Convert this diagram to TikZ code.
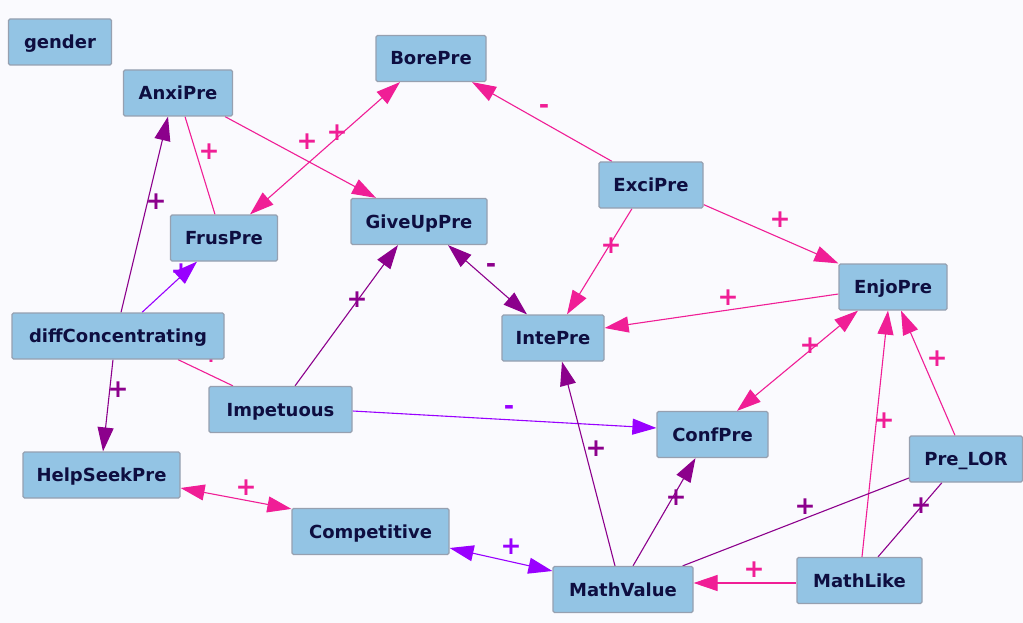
\documentclass[tikz,border=0pt]{standalone}
\usepackage{fontspec}
\setmainfont{DejaVu Sans}
\usetikzlibrary{arrows.meta,calc}

\definecolor{bgcol}{RGB}{250,250,254}
\definecolor{boxfill}{RGB}{147,196,228}
\definecolor{boxline}{RGB}{150,160,176}
\definecolor{ink}{RGB}{14,14,64}
\definecolor{pinkedge}{RGB}{240,30,150}
\definecolor{dpur}{RGB}{140,0,140}
\definecolor{viol}{RGB}{153,0,255}

\pgfdeclarelayer{bg}
\pgfsetlayers{bg,main}

\tikzset{
  var/.style={draw=boxline, line width=1.2pt, fill=boxfill, rounded corners=1.5pt,
    minimum height=46pt, inner sep=0pt, text=ink, text height=13pt, text depth=0pt,
    font=\fontsize{18}{21}\selectfont\bfseries},
  link/.style={line width=1.1pt},
  tip/.style={-{Triangle[length=24pt,width=16pt]}},
  both/.style={{Triangle[length=24pt,width=16pt]}-{Triangle[length=24pt,width=16pt]}},
  sign/.style={font=\fontsize{25}{25}\selectfont\bfseries, inner sep=0pt},
}

\begin{document}
\begin{tikzpicture}[x=1pt,y=-1pt]
\useasboundingbox (0,0) rectangle (1023,623);

% variables
\node[var, minimum width=103pt] (gender) at (60,42)     {gender};
\node[var, minimum width=109pt] (anxi)   at (178,93)    {AnxiPre};
\node[var, minimum width=110pt] (bore)   at (431,58.5)  {BorePre};
\node[var, minimum width=107pt] (frus)   at (224,238)   {FrusPre};
\node[var, minimum width=136pt] (giveup) at (419,221.5) {GiveUpPre};
\node[var, minimum width=104pt] (exci)   at (651,185)   {ExciPre};
\node[var, minimum width=102pt] (inte)   at (553,338)   {IntePre};
\node[var, minimum width=108pt] (enjo)   at (893,287)   {EnjoPre};
\node[var, minimum width=212pt] (diffc)  at (118,336)   {diffConcentrating};
\node[var, minimum width=143pt] (impet)  at (280.5,409.5) {Impetuous};
\node[var, minimum width=111pt] (conf)   at (712.5,434.5) {ConfPre};
\node[var, minimum width=157pt] (help)   at (101.5,475) {HelpSeekPre};
\node[var, minimum width=113pt] (lor)    at (966,459)   {Pre\_LOR};
\node[var, minimum width=157pt] (compet) at (370.5,531.5) {Competitive};
\node[var, minimum width=140pt] (mval)   at (623,589.5) {MathValue};
\node[var, minimum width=125pt] (mlike)  at (859.5,580.5) {MathLike};

\begin{pgfonlayer}{bg}
\fill[bgcol] (0,0) rectangle (1023,623);

% edges
\draw[link, dpur, tip] ([xshift=3pt]diffc.north) -- ([xshift=-10pt]anxi.south);
\draw[link, pinkedge] ([xshift=7pt]anxi.south) -- ([xshift=-9pt]frus.north);
\draw[link, pinkedge, tip] ([xshift=47pt]anxi.south) -- ([xshift=-43pt]giveup.north);
\draw[link, pinkedge, both] ([xshift=26pt]frus.north) -- ([xshift=-31pt]bore.south);
\draw[link, pinkedge, tip] ([xshift=-39pt]exci.north) -- ([xshift=41pt]bore.south);
\draw[link, pinkedge, tip] ([xshift=-19pt]exci.south) -- ([xshift=14pt]inte.north);
\draw[link, pinkedge, tip] ([yshift=4pt]exci.south east) -- (enjo.north west);
\draw[link, pinkedge, tip] ([yshift=-7pt]enjo.west) -- ([yshift=10pt]inte.east);
\draw[link, dpur, both] ([xshift=29pt]giveup.south) -- ([xshift=-26pt]inte.north);
\draw[link, viol, tip] ([xshift=24pt]diffc.north) -- ([xshift=-27pt]frus.south);
\draw[link, dpur, tip] ([xshift=-5pt]diffc.south) -- ([xshift=1.5pt]help.north);
\draw[link, pinkedge] ([xshift=60pt]diffc.south) -- ([xshift=-47.5pt]impet.north);
\draw[link, dpur, tip] ([xshift=14.5pt]impet.north) -- ([xshift=-21pt]giveup.south);
\draw[link, viol, tip] ([yshift=-1.5pt]impet.east) -- ([yshift=6.5pt]conf.west);
\draw[link, pinkedge, both] ([yshift=-13pt]help.east) -- ([yshift=-1pt]compet.north west);
\draw[link, viol, both] ([yshift=-16.5pt]compet.east) -- ([yshift=18.5pt]mval.west);
\draw[link, dpur, tip] ([xshift=-8pt]mval.north) -- ([xshift=9pt]inte.south);
\draw[link, dpur, tip] ([xshift=10pt]mval.north) -- ([xshift=-17pt]conf.south);
\draw[link, pinkedge, both] ([xshift=-35pt]enjo.south) -- ([xshift=24.5pt]conf.north);
\draw[link, pinkedge, tip] ([xshift=2.5pt]mlike.north) -- ([xshift=-5pt]enjo.south);
\draw[link, pinkedge, tip] ([xshift=-11pt]lor.north) -- ([xshift=8pt]enjo.south);
\draw[link, dpur] ([yshift=-19pt]lor.west) -- ([xshift=-11pt]mval.north east);
\draw[link, dpur] ([xshift=-24pt]lor.south) -- ([xshift=18.5pt]mlike.north);
\draw[link, pinkedge, tip] ([yshift=-2.5pt]mlike.west) -- ([yshift=6.5pt]mval.east);

% signs of the effects
\node[sign, text=dpur]     (s1)  at (156,202) {+};
\node[sign, text=pinkedge] (s2)  at (209,152) {+};
\node[sign, text=pinkedge] (s3)  at (307,142) {+};
\node[sign, text=pinkedge] (s4)  at (337,133) {+};
\node[sign, text=pinkedge] (s5)  at (544,109) {-};
\node[sign, text=pinkedge] (s6)  at (611,246) {+};
\node[sign, text=pinkedge] (s7)  at (780,220) {+};
\node[sign, text=pinkedge] (s8)  at (728,298) {+};
\node[sign, text=dpur]     (s9)  at (491,268) {-};
\node[sign, text=viol]     (s10) at (181,272) {+};
\node[sign, text=dpur]     (s11) at (118,390) {+};
\node[sign, text=pinkedge] (s12) at (211,355) {+};
\node[sign, text=dpur]     (s13) at (357,300) {+};
\node[sign, text=viol]     (s14) at (509,410) {-};
\node[sign, text=pinkedge] (s15) at (246,488) {+};
\node[sign, text=viol]     (s16) at (511,547) {+};
\node[sign, text=dpur]     (s17) at (596,449) {+};
\node[sign, text=dpur]     (s18) at (676,498) {+};
\node[sign, text=pinkedge] (s19) at (810,346) {+};
\node[sign, text=pinkedge] (s20) at (884,421) {+};
\node[sign, text=pinkedge] (s21) at (937,359) {+};
\node[sign, text=dpur]     (s22) at (805,507) {+};
\node[sign, text=dpur]     (s23) at (921,506) {+};
\node[sign, text=pinkedge] (s24) at (754,570) {+};
\end{pgfonlayer}
\end{tikzpicture}
\end{document}
